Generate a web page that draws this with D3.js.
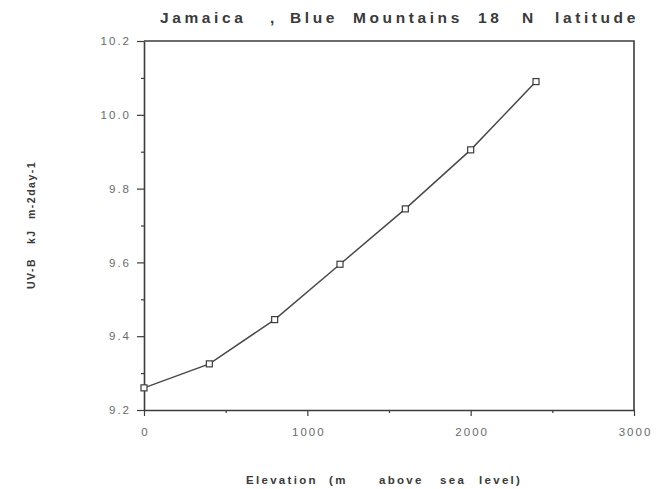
<!DOCTYPE html>
<html>
<head>
<meta charset="utf-8">
<script src="https://cdn.jsdelivr.net/npm/d3@7"></script>
<style>
  body { margin: 0; background: #fff; }
  text { font-family: "Liberation Sans", Arial, sans-serif; }
</style>
</head>
<body>
<div id="chart"></div>
<script>
// data
const elevation = [0, 400, 800, 1200, 1600, 2000, 2400];
const uvb = [9.26, 9.325, 9.445, 9.595, 9.745, 9.905, 10.09];
const xTicks = [0, 1000, 2000, 3000];
const yTicks = [9.2, 9.4, 9.6, 9.8, 10.0, 10.2];

const width = 661, height = 489;
const plot = { left: 144, right: 634, top: 41, bottom: 410 };
const ink = '#3c3c3c';

const svg = d3.select('#chart').append('svg')
    .attr('width', width)
    .attr('height', height);

const x = d3.scaleLinear().domain([0, 3000]).range([plot.left, plot.right]);
const y = d3.scaleLinear().domain([9.2, 10.2]).range([plot.bottom, plot.top]);

// frame (top and right edges)
svg.append('path')
    .attr('d', `M${plot.left},${plot.top}H${plot.right}V${plot.bottom}`)
    .attr('fill', 'none')
    .attr('stroke', ink)
    .attr('stroke-width', 1.6);

// minor ticks
svg.append('g')
    .attr('transform', `translate(0,${plot.bottom})`)
    .call(d3.axisBottom(x).tickValues(d3.range(500, 3000, 1000)).tickSize(3).tickFormat(''))
    .call(g => g.select('.domain').remove());
svg.append('g')
    .attr('transform', `translate(${plot.left},0)`)
    .call(d3.axisLeft(y).tickValues(d3.range(9.3, 10.2, 0.2)).tickSize(3).tickFormat(''))
    .call(g => g.select('.domain').remove());

const xAxis = svg.append('g')
    .attr('transform', `translate(0,${plot.bottom})`)
    .call(d3.axisBottom(x).tickValues(xTicks).tickSize(6).tickSizeOuter(0).tickPadding(12).tickFormat(d3.format('d')));
const yAxis = svg.append('g')
    .attr('transform', `translate(${plot.left},0)`)
    .call(d3.axisLeft(y).tickValues(yTicks).tickSize(7).tickSizeOuter(0).tickPadding(6).tickFormat(d3.format('.1f')));

[xAxis, yAxis].forEach(a => {
    a.select('.domain').attr('stroke', ink).attr('stroke-width', 1.6);
    a.selectAll('.tick text')
        .attr('fill', '#6a6a6a')
        .style('font-size', '11.5px')
        .style('letter-spacing', '2px');
});
xAxis.selectAll('.tick text').attr('dx', '1px');
svg.selectAll('.tick line').attr('stroke', ink).attr('stroke-width', 1.2);

// data line and open square markers
const pts = elevation.map((e, i) => ({ e, v: uvb[i] }));
svg.append('path')
    .datum(pts)
    .attr('fill', 'none')
    .attr('stroke', '#4a4a4a')
    .attr('stroke-width', 1.5)
    .attr('d', d3.line().x(d => x(d.e)).y(d => y(d.v)));

const s = 6;
svg.selectAll('rect.pt')
    .data(pts)
    .join('rect')
    .attr('class', 'pt')
    .attr('x', d => x(d.e) - s / 2)
    .attr('y', d => y(d.v) - s / 2)
    .attr('width', s)
    .attr('height', s)
    .attr('fill', '#fff')
    .attr('stroke', '#3c3c3c')
    .attr('stroke-width', 1.2);

// titles: word positions follow the spaced-out typewriter lettering of the scan
function spacedText(parent, words, starts, opts) {
    const t = parent.append('text')
        .attr('y', opts.y || 0)
        .attr('fill', '#3a3a3a')
        .style('font-size', opts.size)
        .style('font-weight', 'bold')
        .style('letter-spacing', opts.ls);
    words.forEach((w, i) => t.append('tspan').attr('x', starts[i]).text(w));
    return t;
}

spacedText(svg,
    ['Jamaica', ',', 'Blue', 'Mountains', '18', 'N', 'latitude'],
    [160, 270, 290, 353, 478, 522, 555],
    { y: 23, size: '15.5px', ls: '3.6px' });

spacedText(svg,
    ['Elevation', '(m', 'above', 'sea', 'level)'],
    [246, 329, 379, 440, 479],
    { y: 484, size: '11.5px', ls: '2.3px' });

spacedText(svg.append('g').attr('transform', 'translate(35,0) rotate(-90)'),
    ['UV-B', 'kJ', 'm-2day-1'],
    [-289, -244, -219],
    { y: 0, size: '10.5px', ls: '1.5px' });
</script>
</body>
</html>
